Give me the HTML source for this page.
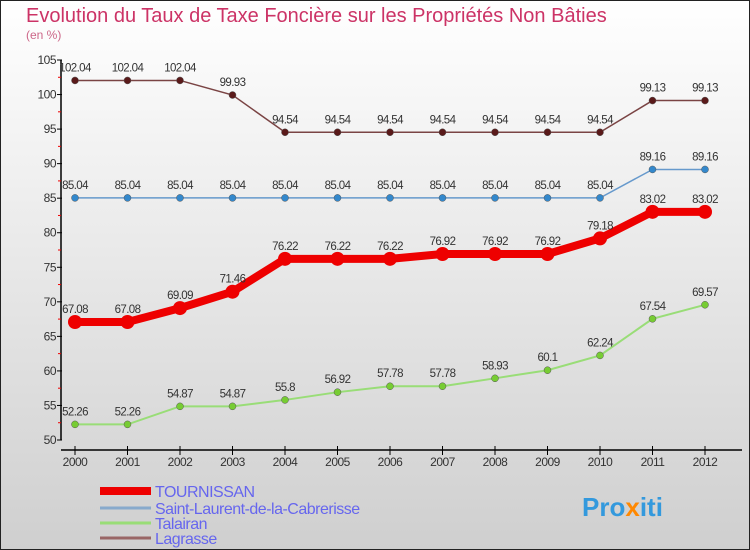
<!DOCTYPE html>
<html><head><meta charset="utf-8"><style>
body{margin:0;}
#c{width:750px;height:550px;position:relative;overflow:hidden;}
svg text{font-family:"Liberation Sans",sans-serif;}
</style></head><body>
<div id="c">
<svg id="s" width="750" height="550" xmlns="http://www.w3.org/2000/svg">
<defs><linearGradient id="bg" x1="0" y1="0" x2="0" y2="1"><stop offset="0" stop-color="#ffffff"/><stop offset="1" stop-color="#cfcfcf"/></linearGradient></defs>
<rect x="0.5" y="0.5" width="749" height="549" fill="url(#bg)" stroke="#222"/>
<text x="26" y="22" font-size="20" fill="#cc3366">Evolution du Taux de Taxe Foncière sur les Propriétés Non Bâties</text>
<text x="26" y="39" font-size="12" fill="#cc6688">(en %)</text>
<g id="axes"></g><g id="series"></g><g id="legend"></g>
<text x="582" y="516" font-size="26" font-weight="bold" fill="#3399dd">Pro<tspan fill="#ff8800">x</tspan>iti</text>
</svg></div>
<script>
const years=[2000,2001,2002,2003,2004,2005,2006,2007,2008,2009,2010,2011,2012];
const tournissan=[67.08,67.08,69.09,71.46,76.22,76.22,76.22,76.92,76.92,76.92,79.18,83.02,83.02];
const saintLaurent=[85.04,85.04,85.04,85.04,85.04,85.04,85.04,85.04,85.04,85.04,85.04,89.16,89.16];
const talairan=[52.26,52.26,54.87,54.87,55.8,56.92,57.78,57.78,58.93,60.1,62.24,67.54,69.57];
const lagrasse=[102.04,102.04,102.04,99.93,94.54,94.54,94.54,94.54,94.54,94.54,94.54,99.13,99.13];
const yTicks=[50,55,60,65,70,75,80,85,90,95,100,105];
const NS="http://www.w3.org/2000/svg";
const X=i=>75+i*52.5;
const Y=v=>440-(v-50)*380/55;
function mk(tag,attrs,parent){const e=document.createElementNS(NS,tag);for(const k in attrs)e.setAttribute(k,attrs[k]);parent.appendChild(e);return e;}
const ax=document.getElementById('axes');
let e=mk('line',{x1:61,y1:60,x2:61,y2:440,stroke:'#000','stroke-width':1.5},ax);


e=mk('line',{x1:61,y1:450,x2:742,y2:450,stroke:'#000','stroke-width':1.5},ax);


yTicks.forEach((v,i)=>{
  mk('line',{x1:57,y1:Y(v),x2:62,y2:Y(v),stroke:'#000'},ax);
  if(i<yTicks.length-1)mk('line',{x1:58,y1:Y(v+2.5),x2:61,y2:Y(v+2.5),stroke:'#e00'},ax);
  const t=mk('text',{x:56,y:Y(v)+4,'font-size':12,'text-anchor':'end',fill:'#333','letter-spacing':'-0.5'},ax);
  t.textContent=v;
  
  
});
years.forEach((y,i)=>{
  mk('line',{x1:X(i),y1:446,x2:X(i),y2:455,stroke:'#000'},ax);
  const t=mk('text',{x:X(i),y:466,'font-size':12,'text-anchor':'middle',fill:'#333','letter-spacing':'-0.5'},ax);
  t.textContent=y;
  
  
});
const sg=document.getElementById('series');
const series=[
 {name:'Lagrasse',data:lagrasse,color:'#7a4444',dot:'#5a1a1a',w:1.5,r:3.5},
 {name:'Saint-Laurent-de-la-Cabrerisse',data:saintLaurent,color:'#6699cc',dot:'#3388cc',w:1.5,r:3.5},
 {name:'Talairan',data:talairan,color:'#99dd77',dot:'#77cc33',w:2,r:3.5},
 {name:'TOURNISSAN',data:tournissan,color:'#ee0000',dot:'#ee0000',w:8,r:7}
];
series.forEach(s=>{
  const g=mk('g',{},sg);
  
  
  const p=mk('polyline',{points:s.data.map((v,i)=>X(i)+','+Y(v)).join(' '),fill:'none',stroke:s.color,'stroke-width':s.w},g);
  
  
  s.data.forEach((v,i)=>{
    const c=mk('circle',{cx:X(i),cy:Y(v),r:s.r,fill:s.dot,stroke:s.w>5?'none':'#555','stroke-width':0.5},g);
    
    
    const t=mk('text',{x:X(i),y:Y(v)-9,'font-size':11.5,'text-anchor':'middle',fill:'#333','letter-spacing':'-0.6'},g);
    t.textContent=v;
    
    
  });
});
const lg=document.getElementById('legend');
const leg=[['TOURNISSAN','#ee0000',8,491],['Saint-Laurent-de-la-Cabrerisse','#88aacc',3,508],['Talairan','#99dd77',3,523],['Lagrasse','#996666',3,538]];
leg.forEach(l=>{
  const g=mk('g',{},lg);
  
  
  mk('line',{x1:100,y1:l[3],x2:151,y2:l[3],stroke:l[1],'stroke-width':l[2]},g);
  const t=mk('text',{x:155,y:l[3]+6,'font-size':16,fill:'#6666ee','letter-spacing':'-0.5'},g);
  t.textContent=l[0];
});
</script>
</body></html>
